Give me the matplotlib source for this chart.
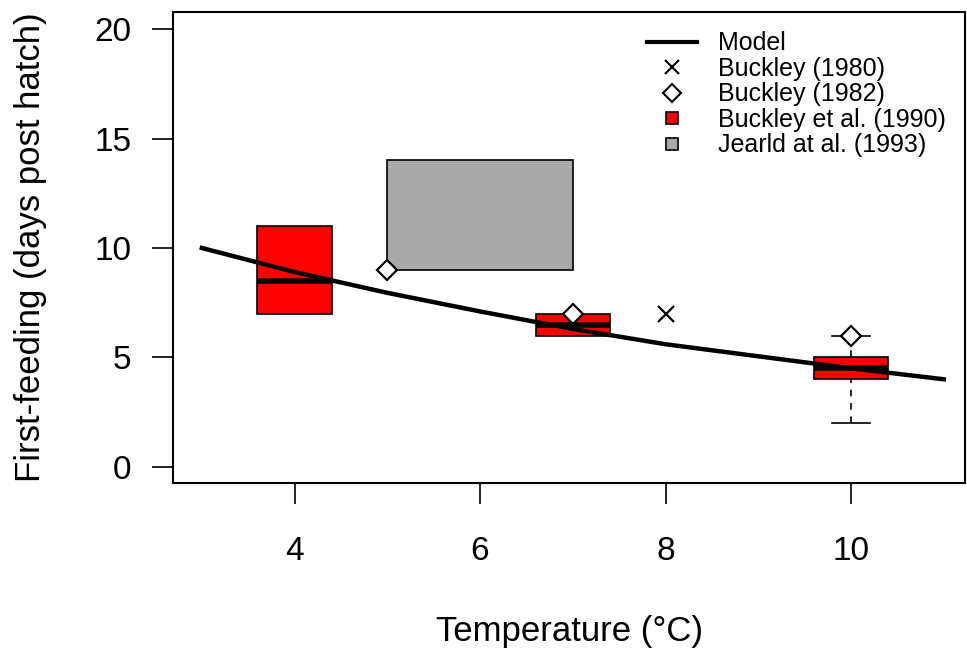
import numpy as np
import matplotlib.pyplot as plt
from matplotlib.lines import Line2D
from matplotlib.patches import Rectangle

plt.rcParams['font.family'] = ['Liberation Sans', 'DejaVu Sans']

# model curve
model_t = [3, 4, 5, 6, 7, 8, 9, 10, 11]
model_d = [10.0, 8.9, 7.95, 7.1, 6.3, 5.6, 5.05, 4.5, 4.0]

# Buckley (1980)
b80_t = [8]
b80_d = [7]

# Buckley (1982)
b82_t = [5, 7, 10]
b82_d = [9, 7, 6]

# Buckley et al. (1990): temperature, low, median, high, whisker low, whisker high
b90_t = [4, 7, 10]
b90_lo = [7, 6, 4]
b90_med = [8.5, 6.5, 4.5]
b90_hi = [11, 7, 5]
b90_wlo = [None, None, 2]
b90_whi = [None, None, 6]

# Jearld at al. (1993): temperature range and days range
j93_t = [5, 7]
j93_d = [9, 14]

fig = plt.figure(figsize=(9.67, 6.48), dpi=100)
ax = fig.add_axes([0.179, 0.255, 0.819, 0.727])

ax.add_patch(Rectangle((j93_t[0], j93_d[0]), j93_t[1] - j93_t[0], j93_d[1] - j93_d[0],
                       facecolor='#a9a9a9', edgecolor='black', lw=1.2, zorder=1))

w = 0.4
for t, lo, med, hi, wl, wh in zip(b90_t, b90_lo, b90_med, b90_hi, b90_wlo, b90_whi):
    if wl is not None:
        ax.plot([t, t], [wl, lo], color='black', lw=1.2, ls=(0, (4, 4)), zorder=2)
        ax.plot([t, t], [hi, wh], color='black', lw=1.2, ls=(0, (4, 4)), zorder=2)
        ax.plot([t - 0.2, t + 0.2], [wl, wl], color='black', lw=1.2, zorder=2)
        ax.plot([t - 0.2, t + 0.2], [wh, wh], color='black', lw=1.2, zorder=2)
    ax.add_patch(Rectangle((t - w, lo), 2 * w, hi - lo, facecolor='red',
                           edgecolor='black', lw=1.2, zorder=2))
    ax.plot([t - w, t + w], [med, med], color='black', lw=4, solid_capstyle='butt', zorder=3)

ax.plot(model_t, model_d, color='black', lw=3.2, zorder=4)
ax.plot(b80_t, b80_d, ls='none', marker='x', ms=11, mew=1.6, color='black', zorder=5)
ax.plot(b82_t, b82_d, ls='none', marker='D', ms=10, mew=1.6, mfc='white', mec='black', zorder=5)

ax.set_xlim(2.69, 11.23)
ax.set_ylim(-0.73, 20.8)
ax.set_xticks([4, 6, 8, 10])
ax.set_yticks([0, 5, 10, 15, 20])
ax.tick_params(axis='both', length=15, width=1.2, labelsize=24, direction='out')
ax.tick_params(axis='x', pad=23)
ax.tick_params(axis='y', pad=15)
for s in ax.spines.values():
    s.set_linewidth(1.5)

ax.set_xlabel('Temperature (°C)', fontsize=25, labelpad=35)
ax.set_ylabel('First-feeding (days post hatch)', fontsize=25, labelpad=34)

handles = [
    Line2D([], [], color='black', lw=3),
    Line2D([], [], ls='none', marker='x', ms=10, mew=1.5, color='black'),
    Line2D([], [], ls='none', marker='D', ms=9, mew=1.5, mfc='white', mec='black'),
    Line2D([], [], ls='none', marker='s', ms=8, mew=1.2, mfc='red', mec='black'),
    Line2D([], [], ls='none', marker='s', ms=8, mew=1.2, mfc='#a9a9a9', mec='black'),
]
labels = ['Model', 'Buckley (1980)', 'Buckley (1982)', 'Buckley et al. (1990)', 'Jearld at al. (1993)']
ax.legend(handles, labels, loc='upper right', frameon=False, fontsize=18,
          handlelength=2.0, handletextpad=0.84, labelspacing=0.06,
          bbox_to_anchor=(1.004, 1.006))

fig.savefig('out.png', dpi=100)
